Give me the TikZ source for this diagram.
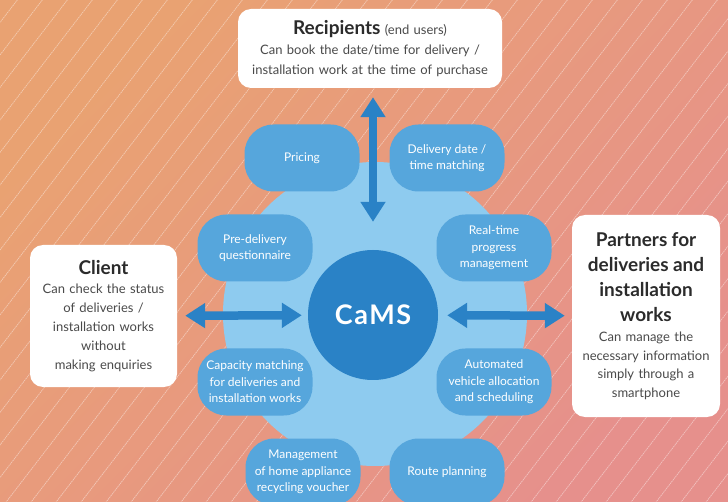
\documentclass[tikz,border=0pt]{standalone}
\usepackage{fontspec}
\setmainfont{Lato}
\usetikzlibrary{arrows.meta}

\definecolor{bgorange}{HTML}{E9A272}
\definecolor{bgpink}{HTML}{E6908C}
\definecolor{ringblue}{HTML}{8ECBEF}
\definecolor{pillblue}{HTML}{56A6DC}
\definecolor{camsblue}{HTML}{2A82C6}
\definecolor{titlegray}{HTML}{2B2B2B}
\definecolor{bodygray}{HTML}{4A4A4A}

\newcommand{\boxtitle}{\fontsize{19}{22}\selectfont\bfseries\color{titlegray}}

\tikzset{
  hatch/.style={white, opacity=0.45, line width=0.7pt, dash pattern=on 1.5pt off 0.7pt},
  pill/.style={rectangle, rounded corners=29pt, fill=pillblue, text=white,
    minimum width=115pt, minimum height=67pt, inner sep=0pt, align=center,
    font=\fontsize{12}{16.5}\selectfont},
  infobox/.style={rectangle, rounded corners=13pt, fill=white, text=bodygray,
    inner sep=0pt, align=center, font=\fontsize{13}{19}\selectfont},
  bigarrow/.style={draw=camsblue, line width=8.5pt,
    {Triangle[width=24pt,length=20pt]}-{Triangle[width=24pt,length=20pt]}}
}

\begin{document}
\begin{tikzpicture}[x=1pt,y=-1pt]
  \useasboundingbox (0,0) rectangle (728,502);
  \clip (0,0) rectangle (728,502);
  % background
  \shade[top color=bgorange, bottom color=bgpink, shading angle=45] (0,0) rectangle (728,502);
  \foreach \x in {-400,-375,...,740}
    \draw[hatch] (\x,510) -- ++(400,-520);

  % central rings
  \node[circle, fill=ringblue, minimum size=304pt, inner sep=0pt] (ring) at (375,314) {};
  \node[circle, fill=camsblue, text=white, minimum size=130pt, inner sep=0pt,
    font=\fontsize{27}{30}\selectfont\bfseries\addfontfeatures{LetterSpace=6}] (cams) at (373,315) {CaMS};

  % function pills
  \node[pill] (pricing) at (302,158) {Pricing};
  \node[pill] (datematch) at (447,158) {Delivery date /\\time matching};
  \node[pill] (questionnaire) at (255,248) {Pre-delivery\\questionnaire};
  \node[pill] (progress) at (494,248) {Real-time\\progress\\management};
  \node[pill] (capacity) at (255,382) {Capacity matching\\for deliveries and\\installation works};
  \node[pill] (vehicle) at (494,382) {Automated\\vehicle allocation\\and scheduling};
  \node[pill] (recycling) at (303,472) {Management\\of home appliance\\recycling voucher};
  \node[pill] (route) at (447,472) {Route planning};

  % stakeholders
  \node[infobox, minimum width=264pt, minimum height=79pt, text width=260pt,
    font=\fontsize{13}{20}\selectfont] (recip) at (370,48.5) {%
    {\boxtitle Recipients} {\fontsize{13}{20}\selectfont(end users)}\\
    Can book the date/time for delivery /\\
    installation work at the time of purchase};
  \node[infobox, minimum width=147pt, minimum height=142pt, text width=145pt] (client) at (103.5,316) {%
    {\boxtitle Client\par}
    Can check the status\\of deliveries /\\installation works\\without\\making enquiries};
  \node[infobox, minimum width=148pt, minimum height=202pt, text width=146pt,
    font=\fontsize{13}{18.5}\selectfont] (partners) at (646,316) {%
    {\fontsize{19}{25}\selectfont\bfseries\color{titlegray} Partners for\\deliveries and\\installation\\works\par}
    \vspace{2pt}
    Can manage the\\necessary information\\simply through a\\smartphone};

  % connections
  \coordinate (uptip) at ([yshift=-9]recip.south -| cams.north);
  \coordinate (downtip) at ([yshift=28]cams.north);
  \draw[bigarrow] (uptip) -- (downtip);
  \draw[bigarrow, shorten <=8pt, shorten >=6pt] (client) -- (cams);
  \draw[bigarrow, shorten <=9pt, shorten >=7pt] (cams) -- (partners);
\end{tikzpicture}
\end{document}
